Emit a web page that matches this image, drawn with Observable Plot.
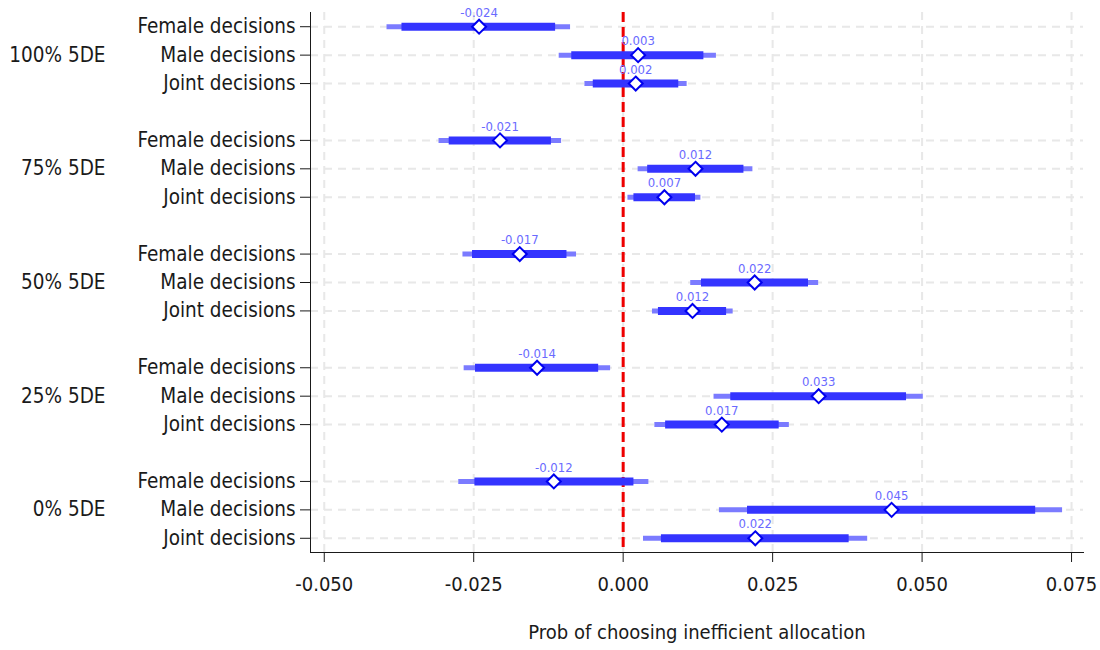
<!DOCTYPE html>
<html>
<head>
<meta charset="utf-8">
<script src="https://cdn.jsdelivr.net/npm/d3@7"></script>
<script src="https://cdn.jsdelivr.net/npm/@observablehq/plot@0.6"></script>
<style>
  html, body { margin: 0; padding: 0; background: white; }
  #chart { width: 1100px; height: 650px; }
</style>
</head>
<body>
<div id="chart"></div>
<script>
const groups = ["100% 5DE", "75% 5DE", "50% 5DE", "25% 5DE", "0% 5DE"];
const decisions = ["Female decisions", "Male decisions", "Joint decisions"];
const estimate = [-0.0241, 0.0025, 0.0021, -0.0206, 0.0121, 0.0069, -0.0173, 0.0220, 0.0116, -0.0144, 0.0327, 0.0165, -0.0116, 0.0449, 0.0221];
const pointLabels = ["-0.024", "0.003", "0.002", "-0.021", "0.012", "0.007", "-0.017", "0.022", "0.012", "-0.014", "0.033", "0.017", "-0.012", "0.045", "0.022"];
const ci90Low = [-0.0370, -0.0086, -0.0050, -0.0291, 0.0041, 0.0018, -0.0252, 0.0131, 0.0059, -0.0247, 0.0180, 0.0071, -0.0248, 0.0208, 0.0064];
const ci90High = [-0.0113, 0.0135, 0.0093, -0.0120, 0.0202, 0.0121, -0.0094, 0.0310, 0.0173, -0.0041, 0.0474, 0.0261, 0.0018, 0.0690, 0.0378];
const ci95Low = [-0.0395, -0.0107, -0.0064, -0.0308, 0.0025, 0.0008, -0.0268, 0.0113, 0.0049, -0.0266, 0.0152, 0.0053, -0.0275, 0.0161, 0.0034];
const ci95High = [-0.0088, 0.0156, 0.0107, -0.0103, 0.0217, 0.0130, -0.0078, 0.0327, 0.0184, -0.0021, 0.0502, 0.0278, 0.0043, 0.0735, 0.0409];
const xTicks = [-0.05, -0.025, 0, 0.025, 0.05, 0.075];
const xTitle = "Prob of choosing inefficient allocation";

const rows = groups.flatMap((g, gi) => decisions.map((d, di) => {
  const i = gi * 3 + di;
  return {group: g, decision: d, key: g + "|" + d, est: estimate[i], label: pointLabels[i],
          lo90: ci90Low[i], hi90: ci90High[i], lo95: ci95Low[i], hi95: ci95High[i]};
}));
const yDomain = [];
groups.forEach((g, gi) => {
  if (gi > 0) yDomain.push("gap" + gi);
  decisions.forEach(d => yDomain.push(g + "|" + d));
});
const keys = rows.map(r => r.key);
const font = "'Liberation Sans Narrow', 'DejaVu Sans Condensed', 'Roboto', sans-serif";

const chart = Plot.plot({
  width: 1100,
  height: 650,
  marginLeft: 310,
  marginRight: 17,
  marginTop: 12,
  marginBottom: 98,
  style: {fontFamily: font, background: "white", color: "#1a1a1a"},
  x: {domain: [-0.0523, 0.077]},
  y: {type: "point", domain: yDomain, padding: 0.5, round: false},
  marks: [
    Plot.gridY(keys, {stroke: "#e8e8e8", strokeOpacity: 1, strokeWidth: 2, strokeDasharray: "8,6"}),
    Plot.gridX(xTicks, {stroke: "#e8e8e8", strokeOpacity: 1, strokeWidth: 2, strokeDasharray: "8,6"}),
    Plot.ruleX([0], {stroke: "#ee0000", strokeWidth: 3, strokeDasharray: "10,5"}),
    Plot.ruleY(rows, {y: "key", x1: "lo95", x2: "hi95", stroke: "#7b7bff", strokeWidth: 5}),
    Plot.ruleY(rows, {y: "key", x1: "lo90", x2: "hi90", stroke: "#3434ff", strokeWidth: 8}),
    Plot.dot(rows, {x: "est", y: "key", symbol: "diamond2", r: 6.3, fill: "white", stroke: "#0000ee", strokeWidth: 2}),
    Plot.text(rows, {x: "est", y: "key", text: "label", dy: -14, fill: "#6a6aff", fontSize: 13}),
    Plot.axisY(keys, {tickFormat: k => k.split("|")[1], tickSize: 10, tickPadding: 5, fontSize: 20.5, label: null}),
    Plot.text(groups, {y: g => g + "|Male decisions", text: d => d, frameAnchor: "left", dx: -205, textAnchor: "end", fontSize: 20.5, fill: "#1a1a1a"}),
    Plot.axisX(xTicks, {tickFormat: d => d.toFixed(3), tickSize: 10, tickPadding: 14, fontSize: 20, label: null}),
    Plot.frame({anchor: "left", stroke: "#1a1a1a"}),
    Plot.frame({anchor: "bottom", stroke: "#1a1a1a"}),
    Plot.text([xTitle], {text: d => d, frameAnchor: "bottom", dy: 86, fontSize: 20, fill: "#1a1a1a"})
  ]
});
document.getElementById("chart").appendChild(chart);
</script>
</body>
</html>
